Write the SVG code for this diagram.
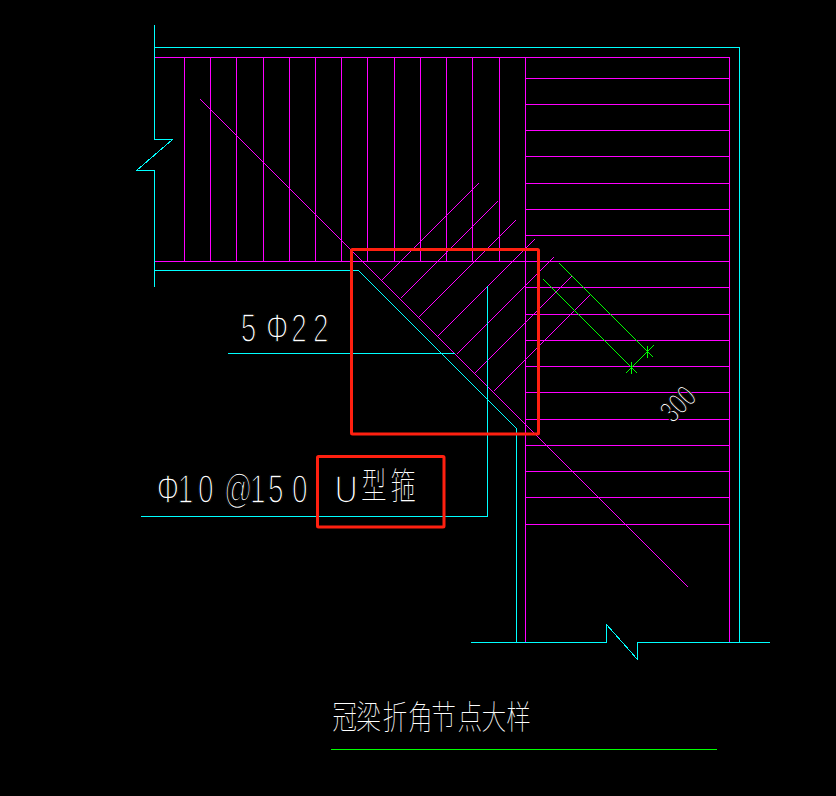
<svg xmlns="http://www.w3.org/2000/svg" width="836" height="796" viewBox="0 0 836 796">
<style>
line,polyline{fill:none;shape-rendering:crispEdges}
.bg{fill:#000}
.c{stroke:#00ffff;stroke-width:1}
.m{stroke:#ff00ff;stroke-width:1}
.g{stroke:#00ff00;stroke-width:1}
.r{fill:none;stroke:#ff2010;stroke-width:3}
.t{fill:#fff;stroke:#000;stroke-width:1.6;font-family:"Liberation Sans","Noto Sans CJK SC",sans-serif;font-size:40px}
.k{fill:#fff;font-family:"Noto Sans CJK SC",sans-serif;font-weight:100}
</style>
<rect class="bg" width="836" height="796"/>
<g id="outline">
<polyline class="c" points="154.5,25 154.5,139.5 172.5,139.5 136.5,170.5 154.5,170.5 154.5,287"/>
<polyline class="c" points="154.5,47.5 739.5,47.5 739.5,642"/>
<polyline class="c" points="154.5,270.5 358.5,270.5 516.5,428.5 516.5,642"/>
<polyline class="c" points="471,642.5 606.5,642.5 606.5,624.5 637.5,659.5 637.5,642.5 770,642.5"/>
</g>
<g id="rebar">
<polyline class="m" points="154.5,57.5 729.5,57.5 729.5,642"/>
<line class="m" x1="154.5" y1="261.5" x2="729.5" y2="261.5"/>
<line class="m" x1="184.5" y1="57.5" x2="184.5" y2="261.5"/>
<line class="m" x1="210.5" y1="57.5" x2="210.5" y2="261.5"/>
<line class="m" x1="236.5" y1="57.5" x2="236.5" y2="261.5"/>
<line class="m" x1="263.5" y1="57.5" x2="263.5" y2="261.5"/>
<line class="m" x1="289.5" y1="57.5" x2="289.5" y2="261.5"/>
<line class="m" x1="315.5" y1="57.5" x2="315.5" y2="261.5"/>
<line class="m" x1="341.5" y1="57.5" x2="341.5" y2="261.5"/>
<line class="m" x1="367.5" y1="57.5" x2="367.5" y2="261.5"/>
<line class="m" x1="394.5" y1="57.5" x2="394.5" y2="261.5"/>
<line class="m" x1="420.5" y1="57.5" x2="420.5" y2="261.5"/>
<line class="m" x1="446.5" y1="57.5" x2="446.5" y2="261.5"/>
<line class="m" x1="472.5" y1="57.5" x2="472.5" y2="261.5"/>
<line class="m" x1="499.5" y1="57.5" x2="499.5" y2="261.5"/>
<line class="m" x1="525.5" y1="57.5" x2="525.5" y2="642"/>
<line class="m" x1="525.5" y1="78.5" x2="729.5" y2="78.5"/>
<line class="m" x1="525.5" y1="104.5" x2="729.5" y2="104.5"/>
<line class="m" x1="525.5" y1="130.5" x2="729.5" y2="130.5"/>
<line class="m" x1="525.5" y1="156.5" x2="729.5" y2="156.5"/>
<line class="m" x1="525.5" y1="183.5" x2="729.5" y2="183.5"/>
<line class="m" x1="525.5" y1="209.5" x2="729.5" y2="209.5"/>
<line class="m" x1="525.5" y1="235.5" x2="729.5" y2="235.5"/>
<line class="m" x1="525.5" y1="287.5" x2="729.5" y2="287.5"/>
<line class="m" x1="525.5" y1="314.5" x2="729.5" y2="314.5"/>
<line class="m" x1="525.5" y1="340.5" x2="729.5" y2="340.5"/>
<line class="m" x1="525.5" y1="366.5" x2="729.5" y2="366.5"/>
<line class="m" x1="525.5" y1="392.5" x2="729.5" y2="392.5"/>
<line class="m" x1="525.5" y1="419.5" x2="729.5" y2="419.5"/>
<line class="m" x1="525.5" y1="445.5" x2="729.5" y2="445.5"/>
<line class="m" x1="525.5" y1="471.5" x2="729.5" y2="471.5"/>
<line class="m" x1="525.5" y1="497.5" x2="729.5" y2="497.5"/>
<line class="m" x1="525.5" y1="524.5" x2="729.5" y2="524.5"/>
<line class="m" x1="200.5" y1="99.5" x2="688.5" y2="587.5"/>
<line class="m" x1="381.5" y1="280.5" x2="478.5" y2="183.5"/>
<line class="m" x1="400.5" y1="298.5" x2="497.5" y2="201.5"/>
<line class="m" x1="418.5" y1="317.5" x2="515.5" y2="220.5"/>
<line class="m" x1="437.5" y1="336.5" x2="534.5" y2="239.5"/>
<line class="m" x1="456.5" y1="354.5" x2="553.5" y2="257.5"/>
<line class="m" x1="474.5" y1="373.5" x2="571.5" y2="276.5"/>
<line class="m" x1="493.5" y1="391.5" x2="590.5" y2="294.5"/>
</g>
<g id="dimension">
<line class="g" x1="559.5" y1="263.5" x2="647.5" y2="351.5"/>
<line class="g" x1="543.5" y1="279.5" x2="631.5" y2="367.5"/>
<line class="g" x1="625.5" y1="373.5" x2="653.5" y2="345.5"/>
<line class="g" x1="625.5" y1="361.5" x2="637.5" y2="373.5"/>
<line class="g" x1="641.5" y1="345.5" x2="653.5" y2="357.5"/>
<line class="g" x1="631.5" y1="361.5" x2="631.5" y2="373.5"/>
<line class="g" x1="647.5" y1="345.5" x2="647.5" y2="357.5"/>
<text class="t" transform="translate(672.8,424.2) rotate(-45) scale(.7,1)" style="font-size:31px;stroke-width:1.3">300</text>
</g>
<g id="leaders">
<line class="c" x1="228" y1="353.5" x2="455" y2="353.5"/>
<polyline class="c" points="141,516.5 487.5,516.5 487.5,286"/>
</g>
<g id="label-5phi22">
<text class="t" transform="translate(0,342) scale(.7,1)" x="344 370 380 416 447">5 Φ22</text>
</g>
<g id="label-phi10">
<text class="t" transform="translate(0,503) scale(.7,1)" x="224 254 283 310 320 357 383 417">Φ10 @150</text>
</g>
<g id="label-u">
<text class="t" transform="translate(0,503) scale(.85,1)" style="font-size:38px" x="393.5">U</text>
<text class="k" transform="translate(0,499) scale(.7,1)" style="font-size:36px" x="516 558">型箍</text>
</g>
<g id="title">
<text class="k" transform="translate(0,729) scale(.75,1)" style="font-size:33px" x="443 475 510 544 575 610 642 675">冠梁折角节点大样</text>
<line class="g" x1="331" y1="749.5" x2="717" y2="749.5"/>
</g>
<g id="highlights">
<rect class="r" x="351.5" y="249.5" width="187" height="184.5" rx="1"/>
<rect class="r" x="317.5" y="456.5" width="126.5" height="70.5" rx="1"/>
</g>
</svg>
